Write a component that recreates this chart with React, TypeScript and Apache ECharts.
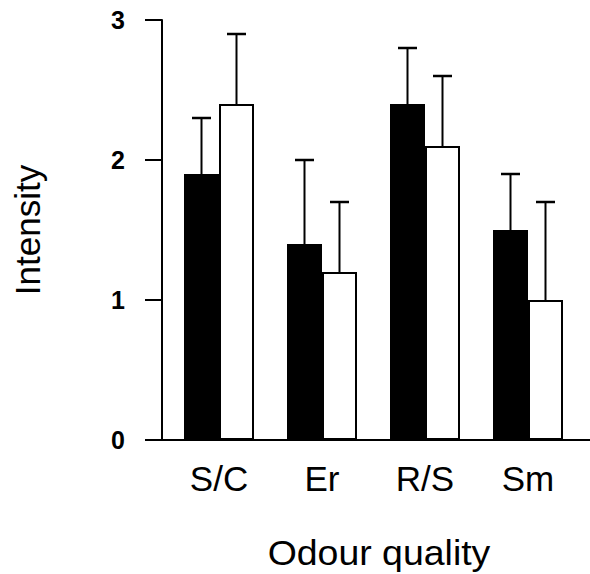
import React, { useEffect, useRef } from "react";
import * as echarts from "echarts";

const categories = ["S/C", "Er", "R/S", "Sm"];
const blackValues = [1.9, 1.4, 2.4, 1.5];
const blackUpper = [2.3, 2.0, 2.8, 1.9];
const whiteValues = [2.4, 1.2, 2.1, 1.0];
const whiteUpper = [2.9, 1.7, 2.6, 1.7];
const yTicks = [0, 1, 2, 3];
const xTitle = "Odour quality";
const yTitle = "Intensity";

const FONT = "Liberation Sans, Arial, Helvetica, sans-serif";
const BAR_W = 35;

export default function App() {
  const ref = useRef<HTMLDivElement>(null);
  useEffect(() => {
    if (!ref.current) return;
    const chart = echarts.init(ref.current, undefined, { renderer: "svg" });

    const errRender = (offset: number) => (params: any, api: any) => {
      const idx = api.value(0);
      const lo = api.coord([idx, api.value(1)]);
      const hi = api.coord([idx, api.value(2)]);
      const x = lo[0] + offset;
      const cap = 9.5;
      return {
        type: "group",
        children: [
          { type: "line", shape: { x1: x, y1: lo[1], x2: x, y2: hi[1] }, style: { stroke: "#000", lineWidth: 2 } },
          { type: "line", shape: { x1: x - cap, y1: hi[1], x2: x + cap, y2: hi[1] }, style: { stroke: "#000", lineWidth: 2.5 } },
        ],
      };
    };

    chart.setOption({
      animation: false,
      backgroundColor: "#fff",
      grid: { left: 167.5, right: 10.5, top: 20, bottom: 134, containLabel: false },
      xAxis: {
        type: "category",
        data: categories,
        axisLine: { show: false },
        axisTick: { show: false },
        axisLabel: { color: "#000", fontSize: 35, fontFamily: FONT, margin: 21 },
      },
      yAxis: {
        type: "value",
        min: yTicks[0],
        max: yTicks[yTicks.length - 1],
        interval: 1,
        offset: 5.5,
        splitLine: { show: false },
        axisLine: { show: true, lineStyle: { color: "#000", width: 2 } },
        axisTick: { show: true, length: 17, lineStyle: { color: "#000", width: 2 } },
        axisLabel: {
          show: true,
          margin: 37,
          color: "#000",
          fontSize: 25,
          fontFamily: FONT,
          fontWeight: "bold",
        },
      },
      graphic: [
        { type: "line", shape: { x1: 161, y1: 440, x2: 590, y2: 440 }, style: { stroke: "#000", lineWidth: 2 }, z: 10 },
        {
          type: "text",
          x: 27,
          y: 230,
          rotation: Math.PI / 2,
          style: { text: yTitle, fontSize: 35, fontFamily: FONT, fill: "#000", align: "center", verticalAlign: "middle" },
        },
        {
          type: "text",
          x: 379,
          y: 553,
          scaleX: 1.07,
          style: { text: xTitle, fontSize: 35, fontFamily: FONT, fill: "#000", align: "center", verticalAlign: "middle" },
        },
      ],
      series: [
        {
          type: "bar",
          data: blackValues,
          barWidth: BAR_W,
          barGap: "0%",
          itemStyle: { color: "#000", borderColor: "#000", borderWidth: 0 },
        },
        {
          type: "bar",
          data: whiteValues,
          barWidth: BAR_W,
          barGap: "0%",
          itemStyle: { color: "#fff", borderColor: "#000", borderWidth: 2 },
        },
        {
          type: "custom",
          data: categories.map((_, i) => [i, blackValues[i], blackUpper[i]]),
          encode: { x: 0, y: [1, 2] },
          renderItem: errRender(-BAR_W / 2),
          z: 5,
        },
        {
          type: "custom",
          data: categories.map((_, i) => [i, whiteValues[i], whiteUpper[i]]),
          encode: { x: 0, y: [1, 2] },
          renderItem: errRender(BAR_W / 2),
          z: 5,
        },
      ],
    });
    return () => chart.dispose();
  }, []);
  return <div ref={ref} style={{ width: 590, height: 574, position: "absolute", left: 0, top: 0 }} />;
}
